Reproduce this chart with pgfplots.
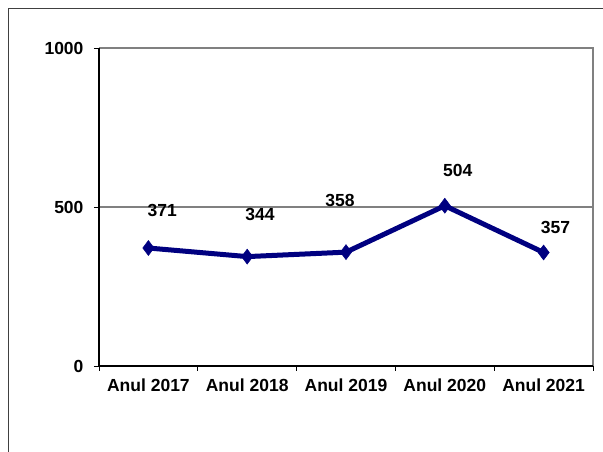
\documentclass[border=0pt]{standalone}
\usepackage{fontspec}
\setmainfont{Liberation Sans}
\usepackage{pgfplots}
\pgfplotsset{compat=1.18}
\definecolor{navy}{HTML}{000080}
\definecolor{frameg}{HTML}{404040}
\definecolor{gridg}{HTML}{808080}
\begin{document}
\begin{tikzpicture}
\path[use as bounding box] (0pt,0pt) rectangle (603pt,452pt);
\draw[frameg, line width=1.6pt] (8.5pt,0pt) -- (8.5pt,443.5pt) -- (603pt,443.5pt);
\begin{axis}[
  at={(99pt,86pt)}, anchor=south west,
  scale only axis, width=494pt, height=318pt,
  xmin=-0.5, xmax=4.5, ymin=0, ymax=1000,
  axis line style={draw=none},
  xtick={0,1,2,3,4},
  xticklabels={Anul 2017,Anul 2018,Anul 2019,Anul 2020,Anul 2021},
  minor xtick={-0.5,0.5,1.5,2.5,3.5,4.5},
  ytick={0,500,1000},
  yticklabel style={/pgf/number format/1000 sep={}},
  major x tick style={draw=none},
  minor tick length=5pt,
  major tick length=5pt,
  tick align=outside,
  xtick pos=bottom, ytick pos=left,
  ymajorgrids,
  major grid style={gridg, line width=1.2pt},
  tick style={black, line width=0.8pt},
  ticklabel style={font=\fontsize{17.5}{20}\selectfont\bfseries},
  /pgf/number format/assume math mode=true,
  yticklabel style={xshift=-7pt},
  xticklabel style={yshift=-4pt},
  clip=false,
]
\addplot[navy, line width=5pt, mark=diamond*, mark size=7.5pt, mark options={solid, line width=0.5pt}]
  coordinates {(0,371) (1,344) (2,358) (3,504) (4,357)};
\draw[gridg, line width=2.2pt] (rel axis cs:0,1) -- (rel axis cs:1,1) -- (rel axis cs:1,0);
\draw[black, line width=1.1pt] (rel axis cs:0,1) -- (rel axis cs:0,0) -- (rel axis cs:1,0);
\begin{scope}[font=\fontsize{17.5}{20}\selectfont\bfseries]
\node at (axis cs:0.14,490) {371};
\node at (axis cs:1.13,475) {344};
\node at (axis cs:1.94,519) {358};
\node at (axis cs:3.13,616) {504};
\node at (axis cs:4.12,434) {357};
\end{scope}
\end{axis}
\end{tikzpicture}
\end{document}
